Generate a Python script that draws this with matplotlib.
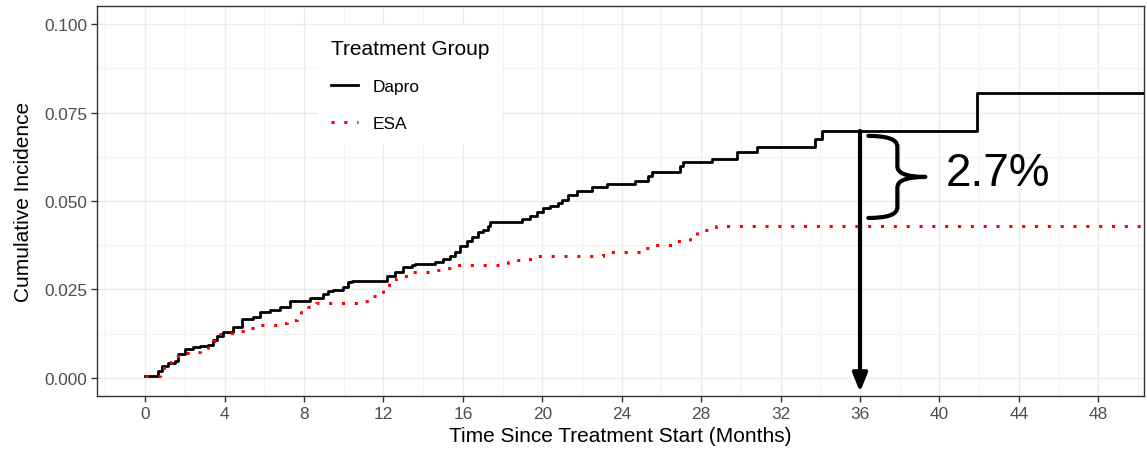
"""
Cumulative incidence by treatment group (Dapro vs ESA)
"""

import matplotlib
matplotlib.use("Agg")
import matplotlib.pyplot as plt
from matplotlib.path import Path
from matplotlib.patches import PathPatch
from matplotlib.ticker import MultipleLocator, FormatStrFormatter

plt.rcParams["font.family"] = ["Liberation Sans", "DejaVu Sans"]

# Data (months, cumulative incidence after each step)
dapro_t = [0, 0.65, 0.86, 1.16, 1.51, 1.66, 2.02, 2.42, 2.77, 3.17, 3.43, 3.63, 3.93, 4.43, 4.89,
           5.44, 5.79, 6.30, 6.80, 7.30, 8.31, 8.97, 9.22, 9.47, 9.97, 10.23, 10.43, 12.19, 12.59,
           13.00, 13.45, 13.60, 14.61, 15.01, 15.37, 15.62, 15.87, 16.22, 16.47, 16.78, 17.03,
           17.28, 17.38, 18.99, 19.40, 19.75, 20.05, 20.40, 20.81, 21.01, 21.31, 21.76, 22.52,
           23.27, 24.69, 25.34, 25.54, 26.95, 27.10, 28.56, 29.82, 30.83, 33.75, 34.11, 41.91, 50.5]
dapro_v = [0.0006, 0.0020, 0.0034, 0.0042, 0.0048, 0.0068, 0.0082, 0.0088, 0.0090, 0.0093, 0.0107,
           0.0119, 0.0130, 0.0144, 0.0167, 0.0172, 0.0186, 0.0192, 0.0201, 0.0218, 0.0226, 0.0237,
           0.0246, 0.0249, 0.0257, 0.0271, 0.0274, 0.0288, 0.0299, 0.0314, 0.0319, 0.0322, 0.0328,
           0.0336, 0.0345, 0.0356, 0.0373, 0.0387, 0.0398, 0.0412, 0.0418, 0.0429, 0.0441, 0.0449,
           0.0458, 0.0469, 0.0480, 0.0486, 0.0494, 0.0503, 0.0517, 0.0528, 0.0540, 0.0548, 0.0556,
           0.0571, 0.0582, 0.0599, 0.0610, 0.0619, 0.0638, 0.0653, 0.0675, 0.0698, 0.0805, 0.0805]

esa_t = [0, 0.76, 0.96, 1.36, 1.76, 2.27, 2.77, 3.17, 3.43, 3.78, 4.28, 4.69, 5.14, 5.64, 6.70,
         7.15, 7.66, 7.86, 8.21, 8.61, 10.83, 11.18, 11.69, 11.99, 12.29, 12.64, 13.05, 13.50,
         14.56, 15.01, 15.52, 18.29, 18.79, 19.29, 19.75, 23.07, 25.19, 25.59, 26.60, 27.46,
         27.81, 28.77, 50.5]
esa_v = [0.0005, 0.0028, 0.0045, 0.0062, 0.0071, 0.0073, 0.0079, 0.0090, 0.0105, 0.0124, 0.0127,
         0.0133, 0.0141, 0.0150, 0.0155, 0.0164, 0.0169, 0.0186, 0.0201, 0.0212, 0.0218, 0.0232,
         0.0237, 0.0254, 0.0271, 0.0282, 0.0288, 0.0299, 0.0305, 0.0311, 0.0319, 0.0328, 0.0333,
         0.0336, 0.0345, 0.0356, 0.0367, 0.0376, 0.0387, 0.0404, 0.0418, 0.0430, 0.0430]

group_labels = ["Dapro", "ESA"]
legend_title = "Treatment Group"
x_ticks = list(range(0, 49, 4))
y_ticks = [0.0, 0.025, 0.05, 0.075, 0.1]
marker_month = 36
diff_label = "2.7%"

# Figure
fig = plt.figure(figsize=(11.47, 4.52), dpi=100)
ax = fig.add_axes([0.0846, 0.1217, 0.9128, 0.8628])

ax.step(dapro_t, dapro_v, where="post", color="black", lw=2.0, label=group_labels[0], zorder=3)
ax.step(esa_t, esa_v, where="post", color="red", lw=2.2, linestyle=(0, (1, 3.2)),
        label=group_labels[1], zorder=3)

ax.set_xlim(-2.42, 50.3)
ax.set_ylim(-0.0051, 0.1051)
ax.set_xticks(x_ticks)
ax.set_yticks(y_ticks)
ax.xaxis.set_minor_locator(MultipleLocator(2))
ax.yaxis.set_minor_locator(MultipleLocator(0.0125))
ax.yaxis.set_major_formatter(FormatStrFormatter("%.3f"))

# theme_bw look
ax.grid(which="major", color="#EBEBEB", lw=1.0, zorder=0)
ax.grid(which="minor", color="#F2F2F2", lw=0.8, zorder=0)
ax.set_axisbelow(True)
for s in ax.spines.values():
    s.set_color("#333333")
    s.set_linewidth(1.0)
ax.tick_params(which="major", length=4, width=1, color="#333333", labelsize=12.4,
               labelcolor="#4D4D4D", pad=3)
ax.tick_params(which="minor", length=0)

ax.set_xlabel("Time Since Treatment Start (Months)", fontsize=15, labelpad=4)
ax.set_ylabel("Cumulative Incidence", fontsize=15, labelpad=8)

leg = ax.legend(title=legend_title, loc="upper left", bbox_to_anchor=(0.211, 0.949),
                borderaxespad=0, frameon=True, facecolor="white", edgecolor="none", framealpha=1,
                fontsize=12.4, title_fontsize=15, alignment="left", handlelength=1.6,
                handletextpad=0.8, labelspacing=1.25, borderpad=0.75)
leg.get_frame().set_boxstyle("square", pad=0)

# Arrow at 36 months
top_val = 0.0698
bot_val = 0.0430
ax.annotate("", xy=(marker_month, -0.0040), xytext=(marker_month, top_val),
            arrowprops=dict(arrowstyle="-|>,head_length=0.55,head_width=0.22", lw=3,
                            color="black", shrinkA=0, shrinkB=0, mutation_scale=20), zorder=5)

# Curly brace between the two curves
x0, x1, x2 = 36.42, 37.88, 39.29
yt, yb = top_val - 0.0014, bot_val + 0.0022
ym = (yt + yb) / 2
verts = [(x0, yt), (x1, yt), (x1, yt - 0.003),
         (x1, ym + 0.003),
         (x1, ym), (x2, ym),
         (x1, ym), (x1, ym - 0.003),
         (x1, yb + 0.003),
         (x1, yb), (x0, yb)]
codes = [Path.MOVETO, Path.CURVE3, Path.CURVE3,
         Path.LINETO,
         Path.CURVE3, Path.CURVE3,
         Path.CURVE3, Path.CURVE3,
         Path.LINETO,
         Path.CURVE3, Path.CURVE3]
ax.add_patch(PathPatch(Path(verts, codes), fill=False, lw=3, color="black",
                       capstyle="round", joinstyle="round", zorder=5))

ax.text(40.3, ym + 0.0012, diff_label, fontsize=33, ha="left", va="center", color="black", zorder=5)

fig.savefig("out.png", dpi=100)
